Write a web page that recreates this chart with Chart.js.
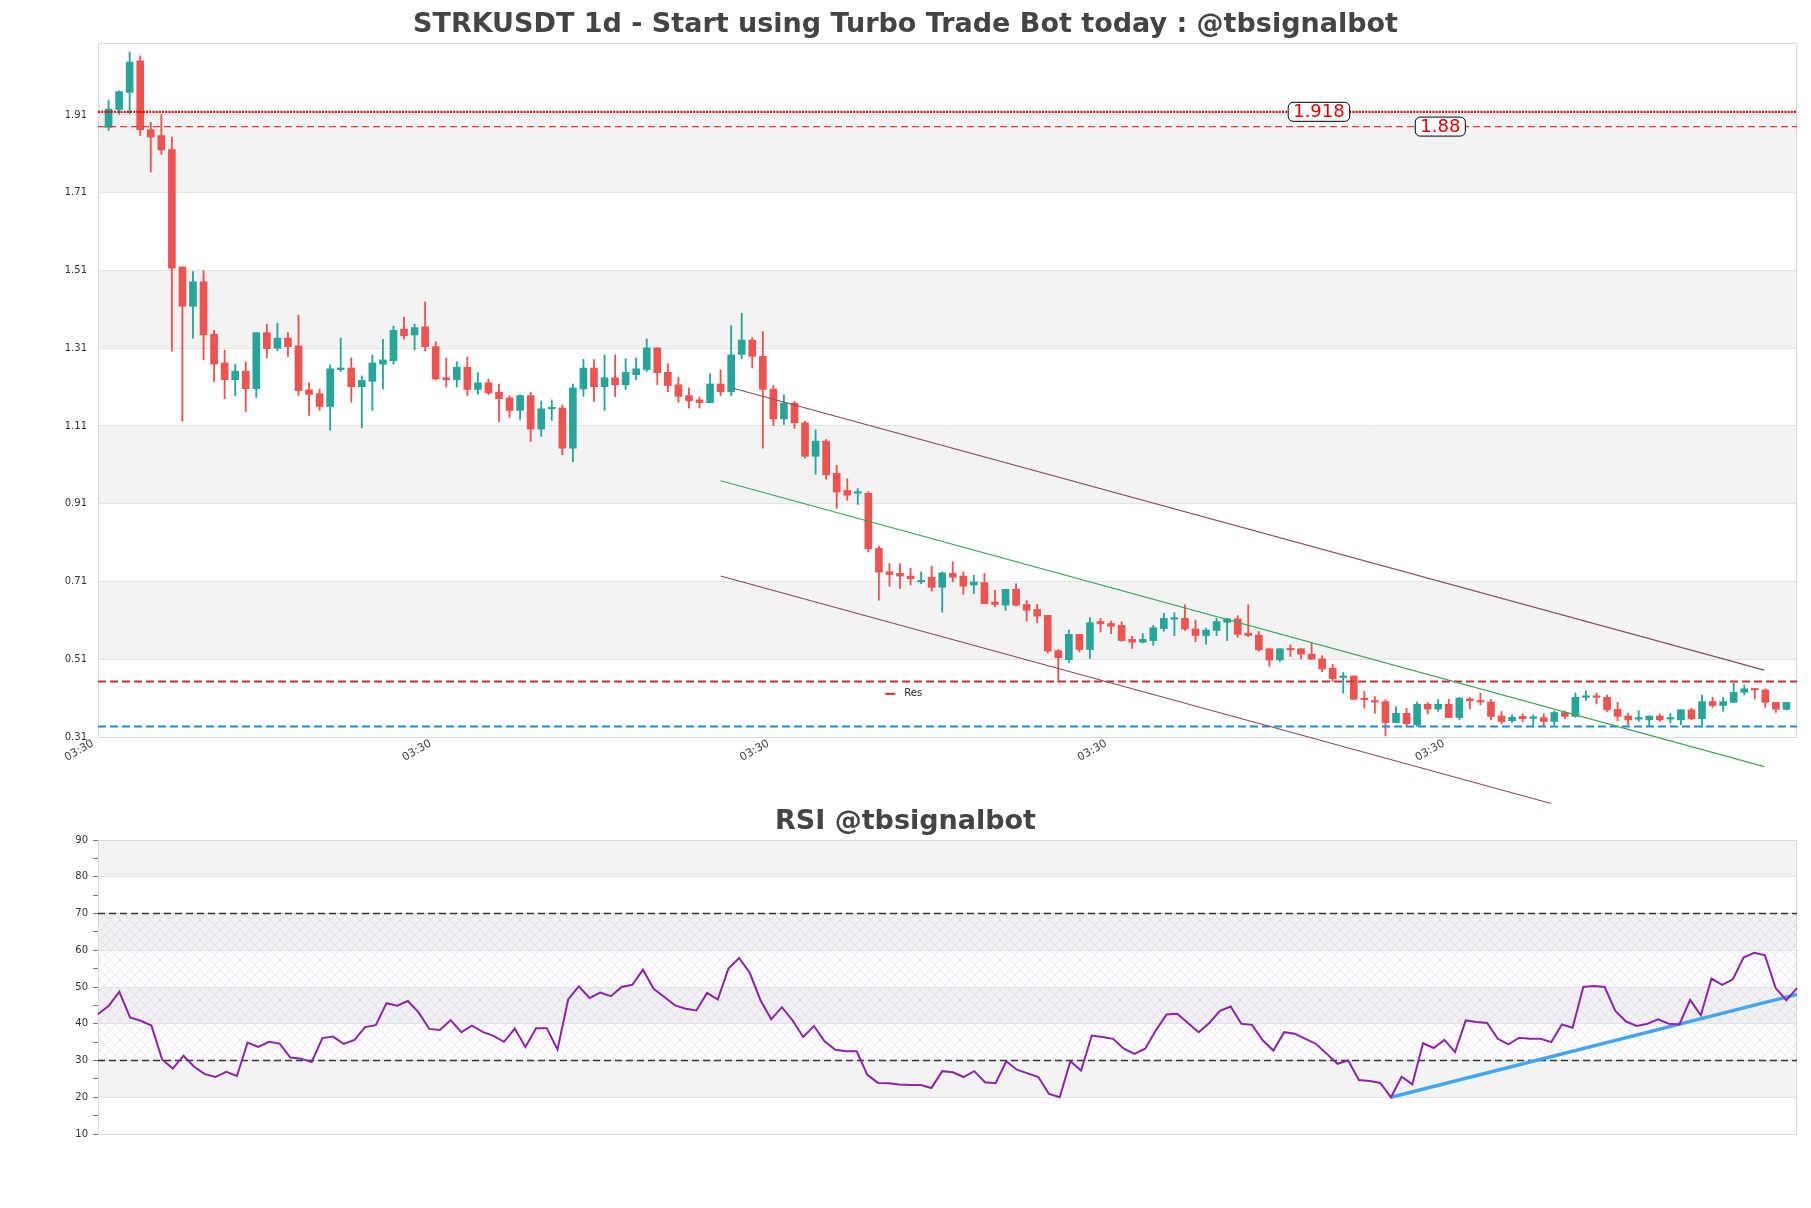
<!DOCTYPE html>
<html lang="en">
<head>
    <meta charset="UTF-8">
    <title>STRKUSDT 1d</title>
    <script src="https://cdn.jsdelivr.net/npm/chart.js"></script>
    <style>
        body {
            margin: 0;
            background: #fff;
            width: 1811px;
            height: 1208px;
            overflow: hidden;
            position: relative;
        }
        #priceBox { position: absolute; left: 0; top: 0; width: 1811px; height: 810px; }
        #rsiBox { position: absolute; left: 0; top: 790px; width: 1811px; height: 418px; }
    </style>
</head>
<body>

<div id="priceBox"><canvas id="priceChart"></canvas></div>
<div id="rsiBox"><canvas id="rsiChart"></canvas></div>

<script>
    // daily candles
    const opens = [1.878, 1.924, 1.968, 2.049, 1.872, 1.857, 1.821, 1.519, 1.418, 1.481,
        1.346, 1.272, 1.229, 1.251, 1.206, 1.350, 1.310, 1.336, 1.316, 1.203,
        1.193, 1.160, 1.255, 1.259, 1.211, 1.225, 1.269, 1.278, 1.359, 1.344,
        1.365, 1.314, 1.234, 1.229, 1.261, 1.204, 1.221, 1.197, 1.182, 1.150,
        1.188, 1.102, 1.154, 1.156, 1.053, 1.205, 1.259, 1.211, 1.234, 1.216,
        1.242, 1.255, 1.311, 1.248, 1.216, 1.188, 1.177, 1.170, 1.218, 1.198,
        1.294, 1.331, 1.289, 1.205, 1.128, 1.169, 1.118, 1.032, 1.071, 0.988,
        0.944, 0.937, 0.937, 0.795, 0.735, 0.731, 0.724, 0.709, 0.721, 0.695,
        0.731, 0.724, 0.701, 0.707, 0.657, 0.649, 0.690, 0.651, 0.638, 0.623,
        0.532, 0.509, 0.574, 0.535, 0.607, 0.602, 0.597, 0.561, 0.554, 0.558,
        0.589, 0.613, 0.615, 0.588, 0.571, 0.584, 0.605, 0.614, 0.577, 0.572,
        0.537, 0.508, 0.537, 0.537, 0.523, 0.511, 0.487, 0.463, 0.467, 0.407,
        0.403, 0.401, 0.347, 0.371, 0.341, 0.394, 0.382, 0.394, 0.360, 0.408,
        0.403, 0.400, 0.364, 0.352, 0.363, 0.358, 0.360, 0.350, 0.373, 0.363,
        0.412, 0.416, 0.412, 0.381, 0.364, 0.356, 0.354, 0.364, 0.356, 0.354,
        0.380, 0.357, 0.401, 0.391, 0.399, 0.425, 0.434, 0.431, 0.399, 0.381];
    const highs = [1.949, 1.972, 2.072, 2.062, 1.891, 1.911, 1.853, 1.519, 1.507, 1.510,
        1.356, 1.305, 1.269, 1.275, 1.350, 1.372, 1.374, 1.350, 1.395, 1.221,
        1.205, 1.267, 1.336, 1.285, 1.239, 1.292, 1.333, 1.367, 1.390, 1.372,
        1.429, 1.327, 1.285, 1.275, 1.287, 1.247, 1.231, 1.218, 1.188, 1.190,
        1.197, 1.174, 1.177, 1.164, 1.218, 1.281, 1.281, 1.293, 1.293, 1.283,
        1.285, 1.334, 1.311, 1.270, 1.235, 1.208, 1.184, 1.244, 1.254, 1.368,
        1.400, 1.337, 1.353, 1.214, 1.190, 1.173, 1.122, 1.100, 1.075, 1.009,
        0.974, 0.949, 0.941, 0.801, 0.756, 0.756, 0.744, 0.735, 0.750, 0.735,
        0.761, 0.735, 0.726, 0.731, 0.687, 0.690, 0.704, 0.661, 0.651, 0.623,
        0.535, 0.585, 0.574, 0.617, 0.615, 0.608, 0.606, 0.569, 0.576, 0.597,
        0.628, 0.630, 0.650, 0.611, 0.590, 0.615, 0.615, 0.622, 0.650, 0.581,
        0.537, 0.537, 0.547, 0.537, 0.551, 0.519, 0.497, 0.476, 0.467, 0.427,
        0.414, 0.406, 0.388, 0.384, 0.400, 0.399, 0.407, 0.407, 0.412, 0.412,
        0.423, 0.406, 0.376, 0.367, 0.370, 0.367, 0.370, 0.377, 0.377, 0.423,
        0.429, 0.423, 0.418, 0.399, 0.371, 0.378, 0.364, 0.370, 0.371, 0.380,
        0.384, 0.418, 0.412, 0.412, 0.448, 0.444, 0.434, 0.434, 0.399, 0.399];
    const lows = [1.870, 1.912, 1.913, 1.857, 1.763, 1.809, 1.303, 1.122, 1.336, 1.280,
        1.224, 1.180, 1.188, 1.147, 1.183, 1.285, 1.303, 1.288, 1.188, 1.137,
        1.150, 1.099, 1.250, 1.171, 1.105, 1.150, 1.205, 1.269, 1.333, 1.306,
        1.303, 1.228, 1.210, 1.210, 1.188, 1.192, 1.190, 1.121, 1.132, 1.126,
        1.070, 1.083, 1.124, 1.036, 1.018, 1.186, 1.173, 1.150, 1.186, 1.204,
        1.229, 1.250, 1.216, 1.198, 1.171, 1.156, 1.156, 1.170, 1.188, 1.188,
        1.283, 1.259, 1.053, 1.111, 1.114, 1.104, 1.028, 0.986, 0.973, 0.898,
        0.919, 0.908, 0.786, 0.662, 0.698, 0.692, 0.701, 0.704, 0.685, 0.631,
        0.709, 0.677, 0.679, 0.653, 0.645, 0.636, 0.647, 0.608, 0.604, 0.526,
        0.451, 0.501, 0.529, 0.512, 0.580, 0.576, 0.556, 0.538, 0.552, 0.546,
        0.582, 0.571, 0.584, 0.555, 0.549, 0.571, 0.558, 0.566, 0.568, 0.531,
        0.491, 0.504, 0.517, 0.511, 0.510, 0.478, 0.453, 0.423, 0.406, 0.384,
        0.371, 0.313, 0.347, 0.339, 0.337, 0.369, 0.376, 0.360, 0.354, 0.382,
        0.393, 0.354, 0.344, 0.347, 0.350, 0.339, 0.339, 0.341, 0.357, 0.361,
        0.404, 0.395, 0.376, 0.352, 0.341, 0.350, 0.339, 0.350, 0.346, 0.341,
        0.354, 0.335, 0.386, 0.376, 0.399, 0.418, 0.407, 0.386, 0.373, 0.380];
    const closes = [1.925, 1.970, 2.046, 1.872, 1.853, 1.820, 1.516, 1.418, 1.481, 1.344,
        1.269, 1.229, 1.251, 1.206, 1.350, 1.309, 1.336, 1.314, 1.201, 1.191,
        1.160, 1.257, 1.259, 1.211, 1.227, 1.272, 1.280, 1.356, 1.342, 1.363,
        1.314, 1.231, 1.229, 1.261, 1.204, 1.221, 1.195, 1.180, 1.150, 1.188,
        1.102, 1.154, 1.156, 1.053, 1.208, 1.259, 1.211, 1.234, 1.216, 1.248,
        1.257, 1.311, 1.247, 1.214, 1.186, 1.175, 1.170, 1.218, 1.198, 1.293,
        1.331, 1.289, 1.204, 1.128, 1.169, 1.118, 1.032, 1.071, 0.984, 0.940,
        0.932, 0.938, 0.794, 0.734, 0.728, 0.724, 0.717, 0.711, 0.695, 0.732,
        0.721, 0.698, 0.709, 0.653, 0.651, 0.690, 0.649, 0.636, 0.621, 0.531,
        0.514, 0.574, 0.535, 0.604, 0.601, 0.595, 0.558, 0.554, 0.561, 0.591,
        0.615, 0.615, 0.588, 0.571, 0.585, 0.607, 0.614, 0.574, 0.571, 0.534,
        0.508, 0.537, 0.534, 0.523, 0.510, 0.485, 0.460, 0.465, 0.407, 0.406,
        0.400, 0.347, 0.371, 0.344, 0.394, 0.382, 0.394, 0.360, 0.410, 0.403,
        0.400, 0.363, 0.350, 0.361, 0.357, 0.359, 0.350, 0.373, 0.363, 0.412,
        0.416, 0.412, 0.380, 0.363, 0.354, 0.357, 0.364, 0.354, 0.357, 0.380,
        0.357, 0.401, 0.391, 0.401, 0.425, 0.434, 0.431, 0.399, 0.381, 0.399];

    const rsiValues = [42.6, 44.9, 48.7, 41.7, 40.8, 39.5, 30.3, 27.8, 31.3, 28.3,
        26.3, 25.5, 26.9, 25.8, 34.9, 33.7, 35.1, 34.6, 30.8, 30.5,
        29.6, 36.1, 36.5, 34.5, 35.6, 39.1, 39.6, 45.6, 44.9, 46.2,
        43.1, 38.6, 38.3, 41.0, 37.7, 39.5, 37.8, 36.7, 35.1, 38.7,
        33.7, 38.8, 38.8, 33.0, 46.6, 50.2, 47.0, 48.5, 47.5, 50.0,
        50.6, 54.7, 49.5, 47.3, 45.0, 44.1, 43.6, 48.4, 46.6, 55.0,
        57.9, 53.8, 46.4, 41.2, 44.5, 40.9, 36.4, 39.4, 35.2, 32.9,
        32.5, 32.5, 26.1, 23.9, 23.8, 23.5, 23.3, 23.3, 22.5, 27.1,
        26.8, 25.5, 27.1, 24.1, 23.8, 29.8, 27.5, 26.5, 25.5, 20.9,
        20.0, 29.8, 27.3, 36.8, 36.4, 35.9, 33.2, 31.8, 33.2, 38.2,
        42.5, 42.7, 40.2, 37.7, 40.2, 43.5, 44.7, 40.0, 39.7, 35.5,
        32.7, 37.7, 37.3, 35.9, 34.5, 31.8, 29.1, 30.0, 24.7, 24.4,
        23.9, 20.0, 25.6, 23.5, 34.7, 33.4, 35.6, 32.3, 40.9, 40.5,
        40.2, 35.9, 34.4, 36.2, 35.9, 35.9, 35.0, 39.8, 38.9, 50.0,
        50.3, 50.0, 43.5, 40.6, 39.4, 40.0, 41.2, 40.0, 39.8, 46.5,
        42.3, 52.3, 50.6, 52.1, 58.0, 59.3, 58.6, 49.7, 46.4, 49.7];

    // axis ticks
    const xTickIdx = [-1, 31, 63, 95, 127];
    const xTickLabels = ['03:30', '03:30', '03:30', '03:30', '03:30'];
    const priceTicks = [0.31, 0.51, 0.71, 0.91, 1.11, 1.31, 1.51, 1.71, 1.91];
    const rsiTicks = [10, 20, 30, 40, 50, 60, 70, 80, 90];

    // trend channel (candle index, price)
    const channelUpper = [[59.2, 1.207], [156.9, 0.482]];
    const channelMid = [[58.0, 0.969], [156.9, 0.234]];
    const channelLower = [[58.0, 0.724], [136.7, 0.139]];

    // horizontal levels
    const topLevels = [1.918, 1.88];
    const topLevelLabels = ['1.918', '1.88'];
    const topLevelLabelIdx = [114.7, 126.2];
    const resLevel = 0.4526;
    const supLevel = 0.337;

    // rsi levels and trend (index, rsi)
    const rsiBounds = [70, 30];
    const rsiTrend = [[121, 20], [159, 48]];

    const GREEN = '#26a69a';
    const RED = '#ef5350';
    const FONT = '"DejaVu Sans", sans-serif';

    const idx = opens.map((_, i) => i);
    const candleColors = idx.map(i => closes[i] >= opens[i] ? GREEN : RED);
    const lastIdx = opens.length;

    function toPoints(pairs) {
        return pairs.map(p => ({ x: p[0], y: p[1] }));
    }

    function hLine(value, x0, x1) {
        return [{ x: x0, y: value }, { x: x1, y: value }];
    }

    // title drawn at the centre of the canvas
    const titlePlugin = {
        id: 'panelTitle',
        afterDraw(chart, args, opts) {
            const ctx = chart.ctx;
            ctx.save();
            ctx.font = 'bold 27px ' + FONT;
            ctx.fillStyle = '#444';
            ctx.textAlign = 'center';
            ctx.textBaseline = 'middle';
            ctx.fillText(opts.text, chart.width / 2, opts.y);
            ctx.restore();
        }
    };

    // hatch tile for the rsi 30-70 zone
    function makeHatch() {
        const c = document.createElement('canvas');
        c.width = 10;
        c.height = 10;
        const g = c.getContext('2d');
        g.strokeStyle = 'rgba(140, 120, 160, 0.2)';
        g.lineWidth = 0.7;
        g.beginPath();
        g.moveTo(0, 0); g.lineTo(10, 10);
        g.moveTo(10, 0); g.lineTo(0, 10);
        g.stroke();
        return c;
    }
    const hatchTile = makeHatch();

    // alternating grey bands and the frame
    const bandPlugin = {
        id: 'bands',
        beforeDraw(chart, args, opts) {
            const { ctx, chartArea: a } = chart;
            const y = chart.scales.y;
            const w = a.right - a.left;
            ctx.save();
            ctx.fillStyle = '#fff';
            ctx.fillRect(a.left, a.top, w, a.bottom - a.top);
            for (let k = 1; k < opts.ticks.length - 1; k += 2) {
                const y0 = y.getPixelForValue(opts.ticks[k]);
                const y1 = y.getPixelForValue(opts.ticks[k + 1]);
                ctx.fillStyle = '#f3f3f3';
                ctx.fillRect(a.left, y1, w, y0 - y1);
            }
            if (opts.hatch) {
                const h0 = y.getPixelForValue(opts.hatch[0]);
                const h1 = y.getPixelForValue(opts.hatch[1]);
                ctx.fillStyle = 'rgba(200, 180, 225, 0.04)';
                ctx.fillRect(a.left, h1, w, h0 - h1);
                ctx.fillStyle = ctx.createPattern(hatchTile, 'repeat');
                ctx.fillRect(a.left, h1, w, h0 - h1);
            }
            ctx.restore();
        },
        beforeDatasetsDraw(chart) {
            const { ctx, chartArea: a } = chart;
            ctx.save();
            ctx.strokeStyle = '#d9d9d9';
            ctx.lineWidth = 1;
            ctx.strokeRect(a.left + 0.5, a.top + 0.5, a.right - a.left - 1, a.bottom - a.top);
            ctx.restore();
        }
    };

    // price labels on the top levels + the "Res" legend
    const notePlugin = {
        id: 'notes',
        afterDatasetsDraw(chart) {
            const ctx = chart.ctx;
            const xs = chart.scales.x, ys = chart.scales.y;
            ctx.save();
            ctx.font = '18px ' + FONT;
            ctx.textAlign = 'center';
            ctx.textBaseline = 'middle';
            topLevels.forEach((v, i) => {
                const cx = xs.getPixelForValue(topLevelLabelIdx[i]);
                const cy = ys.getPixelForValue(v);
                const tw = ctx.measureText(topLevelLabels[i]).width;
                const bw = tw + 10, bh = 19;
                ctx.beginPath();
                ctx.roundRect(cx - bw / 2, cy - bh / 2, bw, bh, 5);
                ctx.fillStyle = '#fff';
                ctx.fill();
                ctx.strokeStyle = '#000';
                ctx.lineWidth = 1;
                ctx.stroke();
                ctx.fillStyle = '#e00000';
                ctx.fillText(topLevelLabels[i], cx, cy + 1);
            });

            // legend
            const lx = xs.getPixelForValue(73.6);
            const ly = ys.getPixelForValue(0.421);
            ctx.strokeStyle = '#d32f2f';
            ctx.lineWidth = 2;
            ctx.beginPath();
            ctx.moveTo(lx, ly);
            ctx.lineTo(lx + 10, ly);
            ctx.stroke();
            ctx.font = '10px ' + FONT;
            ctx.fillStyle = '#222';
            ctx.textAlign = 'left';
            ctx.fillText('Res', lx + 19, ly);
            ctx.restore();
        }
    };

    function lineSet(data, color, width, dash) {
        return {
            type: 'line',
            data: data,
            borderColor: color,
            borderWidth: width,
            borderDash: dash || [],
            pointRadius: 0,
            tension: 0,
            fill: false,
            clip: false,
            order: 0
        };
    }

    function createPriceChart() {
        const ctx = document.getElementById('priceChart').getContext('2d');

        new Chart(ctx, {
            type: 'bar',
            data: {
                datasets: [
                    {
                        label: 'wick',
                        data: idx.map(i => ({ x: i, y: [lows[i], highs[i]] })),
                        backgroundColor: candleColors,
                        barThickness: 1.2,
                        maxBarThickness: 1.2,
                        grouped: false,
                        order: 3
                    },
                    {
                        label: 'body',
                        data: idx.map(i => ({ x: i, y: [Math.min(opens[i], closes[i]), Math.max(opens[i], closes[i])] })),
                        backgroundColor: candleColors,
                        barThickness: 7,
                        maxBarThickness: 7,
                        minBarLength: 1.5,
                        grouped: false,
                        order: 2
                    },
                    lineSet(toPoints(channelUpper), '#8e4a5c', 1.2),
                    lineSet(toPoints(channelMid), '#3aa655', 1.2),
                    lineSet(toPoints(channelLower), '#8e4a5c', 1.2),
                    lineSet(hLine(topLevels[0], -1, lastIdx), '#e00000', 2.2, [2, 1.2]),
                    lineSet(hLine(topLevels[1], -1, lastIdx), '#e53935', 1.3, [7, 4]),
                    lineSet(hLine(resLevel, -1, lastIdx), '#d32f2f', 2, [8, 4]),
                    lineSet(hLine(supLevel, -1, lastIdx), '#1e88e5', 2, [8, 4])
                ]
            },
            options: {
                responsive: true,
                maintainAspectRatio: false,
                animation: false,
                layout: { padding: { left: 0, right: 14, top: 43, bottom: 0 } },
                plugins: {
                    legend: { display: false },
                    tooltip: { enabled: false },
                    panelTitle: { text: 'STRKUSDT 1d - Start using Turbo Trade Bot today : @tbsignalbot', y: 25 },
                    bands: { ticks: priceTicks }
                },
                scales: {
                    x: {
                        type: 'linear',
                        min: -1,
                        max: lastIdx,
                        offset: false,
                        grid: { display: false, offset: false, drawTicks: false },
                        border: { display: false },
                        afterBuildTicks: s => { s.ticks = xTickIdx.map(v => ({ value: v })); },
                        afterFit: s => { s.height = 73; },
                        ticks: {
                            autoSkip: false,
                            minRotation: 30,
                            maxRotation: 30,
                            padding: 0,
                            labelOffset: -5,
                            color: '#444',
                            font: { family: FONT, size: 11 },
                            callback: (v, i) => xTickLabels[i]
                        }
                    },
                    y: {
                        min: 0.31,
                        max: 2.095,
                        grid: { color: '#e4e4e4', drawTicks: false },
                        border: { display: false },
                        afterBuildTicks: s => { s.ticks = priceTicks.map(v => ({ value: v })); },
                        afterFit: s => { s.width = 98; },
                        ticks: {
                            padding: 11,
                            color: '#333',
                            font: { family: FONT, size: 10 },
                            callback: v => Number(v).toFixed(2)
                        }
                    }
                }
            },
            plugins: [bandPlugin, titlePlugin, notePlugin]
        });
    }

    function createRsiChart() {
        const ctx = document.getElementById('rsiChart').getContext('2d');

        new Chart(ctx, {
            type: 'line',
            data: {
                datasets: [
                    lineSet(idx.map(i => ({ x: i, y: rsiValues[i] })), '#8e24aa', 2),
                    lineSet(toPoints(rsiTrend), '#42a5f5', 3.5),
                    lineSet(hLine(rsiBounds[0], 0, lastIdx - 1), '#333', 1.3, [7, 4]),
                    lineSet(hLine(rsiBounds[1], 0, lastIdx - 1), '#333', 1.3, [7, 4])
                ]
            },
            options: {
                responsive: true,
                maintainAspectRatio: false,
                animation: false,
                layout: { padding: { left: 0, right: 14, top: 50, bottom: 74 } },
                plugins: {
                    legend: { display: false },
                    tooltip: { enabled: false },
                    panelTitle: { text: 'RSI @tbsignalbot', y: 32 },
                    bands: { ticks: rsiTicks, hatch: [30, 70] }
                },
                scales: {
                    x: {
                        type: 'linear',
                        min: 0,
                        max: lastIdx - 1,
                        display: false
                    },
                    y: {
                        min: 10,
                        max: 90,
                        border: { display: false },
                        grid: {
                            color: c => (c.tick && c.tick.value % 10 === 0) ? '#e2e2e2' : 'rgba(0,0,0,0)',
                            tickColor: '#777',
                            tickLength: 5
                        },
                        afterFit: s => { s.width = 98; },
                        ticks: {
                            stepSize: 5,
                            padding: 5,
                            color: '#333',
                            font: { family: FONT, size: 10 },
                            callback: v => (v % 10 === 0 ? String(v) : '')
                        }
                    }
                }
            },
            plugins: [bandPlugin, titlePlugin]
        });
    }

    document.addEventListener('DOMContentLoaded', () => {
        createPriceChart();
        createRsiChart();
    });
</script>

</body>
</html>
